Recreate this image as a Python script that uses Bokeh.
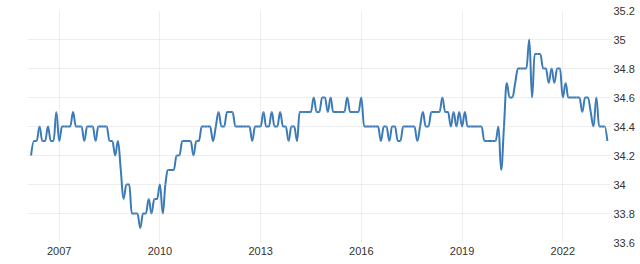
import pandas as pd
from bokeh.plotting import figure
from bokeh.models import FixedTicker, DatetimeTickFormatter, NumeralTickFormatter, Range1d
from bokeh.embed import file_html
from bokeh.resources import INLINE

# ---- data (monthly, Mar 2006 .. May 2023) ----
start_month = "2006-03-01"
hours = [
    34.2, 34.3, 34.3, 34.4, 34.3, 34.3, 34.4, 34.3, 34.3, 34.5,   # 2006
    34.3, 34.4, 34.4, 34.4, 34.4, 34.5, 34.4, 34.4, 34.4, 34.3,
    34.4, 34.4, 34.4, 34.3, 34.4, 34.4, 34.4, 34.4, 34.3, 34.3,
    34.2, 34.3, 34.1, 33.9, 34.0, 34.0, 33.8, 33.8, 33.8, 33.7,
    33.8, 33.8, 33.9, 33.8, 33.9, 33.9, 34.0, 33.8, 34.0, 34.1,
    34.1, 34.1, 34.2, 34.2, 34.3, 34.3, 34.3, 34.3, 34.2, 34.3,
    34.3, 34.4, 34.4, 34.4, 34.4, 34.3, 34.4, 34.5, 34.4, 34.4,
    34.5, 34.5, 34.5, 34.4, 34.4, 34.4, 34.4, 34.4, 34.4, 34.3,
    34.4, 34.4, 34.4, 34.5, 34.4, 34.4, 34.5, 34.4, 34.4, 34.5,
    34.4, 34.4, 34.3, 34.4, 34.4, 34.3, 34.5, 34.5, 34.5, 34.5,
    34.5, 34.6, 34.5, 34.5, 34.6, 34.6, 34.5, 34.6, 34.5, 34.5,
    34.5, 34.5, 34.5, 34.6, 34.5, 34.5, 34.5, 34.5, 34.6, 34.4,
    34.4, 34.4, 34.4, 34.4, 34.4, 34.3, 34.4, 34.4, 34.3, 34.4,
    34.4, 34.3, 34.3, 34.4, 34.4, 34.4, 34.4, 34.4, 34.3, 34.4,
    34.5, 34.4, 34.4, 34.5, 34.5, 34.5, 34.5, 34.6, 34.5, 34.5,
    34.4, 34.5, 34.4, 34.5, 34.4, 34.5, 34.4, 34.4, 34.4, 34.4,
    34.4, 34.4, 34.3, 34.3, 34.3, 34.3, 34.3, 34.4, 34.1, 34.4,
    34.7, 34.6, 34.6, 34.7, 34.8, 34.8, 34.8, 34.8, 35.0, 34.6,
    34.9, 34.9, 34.9, 34.8, 34.8, 34.7, 34.8, 34.7, 34.8, 34.8,
    34.6, 34.7, 34.6, 34.6, 34.6, 34.6, 34.6, 34.5, 34.6, 34.6,
    34.5, 34.4, 34.6, 34.4, 34.4, 34.4, 34.3,
]
tick_years = [2007, 2010, 2013, 2016, 2019, 2022]
y_ticks = [33.6, 33.8, 34.0, 34.2, 34.4, 34.6, 34.8, 35.0, 35.2]

dates = pd.date_range(start_month, periods=len(hours), freq="MS")
xs = [d.value / 1e6 for d in dates]  # ms since epoch
ys = list(hours)

# ---- Highcharts-style spline control points (rendering only) ----
def spline_controls(x, y, smoothing=1.5):
    n = len(x)
    denom = smoothing + 1
    lc = [(x[i], y[i]) for i in range(n)]
    rc = [(x[i], y[i]) for i in range(n)]
    for i in range(1, n - 1):
        lx, ly = x[i - 1], y[i - 1]
        nx, ny = x[i + 1], y[i + 1]
        px, py = x[i], y[i]
        lcx = (smoothing * px + lx) / denom
        lcy = (smoothing * py + ly) / denom
        rcx = (smoothing * px + nx) / denom
        rcy = (smoothing * py + ny) / denom
        if rcx != lcx:
            corr = ((rcy - lcy) * (rcx - px)) / (rcx - lcx) + py - rcy
            lcy += corr
            rcy += corr
        if lcy > ly and lcy > py:
            lcy = max(ly, py); rcy = 2 * py - lcy
        elif lcy < ly and lcy < py:
            lcy = min(ly, py); rcy = 2 * py - lcy
        if rcy > ny and rcy > py:
            rcy = max(ny, py); lcy = 2 * py - rcy
        elif rcy < ny and rcy < py:
            rcy = min(ny, py); lcy = 2 * py - rcy
        lc[i] = (lcx, lcy)
        rc[i] = (rcx, rcy)
    seg = dict(x0=[], y0=[], x1=[], y1=[], cx0=[], cy0=[], cx1=[], cy1=[])
    for i in range(1, n):
        seg["x0"].append(x[i - 1]); seg["y0"].append(y[i - 1])
        seg["x1"].append(x[i]); seg["y1"].append(y[i])
        seg["cx0"].append(rc[i - 1][0]); seg["cy0"].append(rc[i - 1][1])
        seg["cx1"].append(lc[i][0]); seg["cy1"].append(lc[i][1])
    return seg

seg = spline_controls(xs, ys)

# ---- layout geometry ----
W, H = 640, 264
left, right, top, bottom = 27, 30, 10, 22
t_a = pd.Timestamp(f"{tick_years[0]}-01-01").value / 1e6
t_b = pd.Timestamp(f"{tick_years[-1]}-01-01").value / 1e6
px_a, px_b = 58.7, 562.3
ms_per_px = (t_b - t_a) / (px_b - px_a)
x_start = t_a - (px_a - left) * ms_per_px
x_end = t_a + ((W - right) - px_a) * ms_per_px

p = figure(width=W, height=H, output_backend="svg", toolbar_location=None,
           x_axis_type="datetime", y_axis_location="right",
           x_range=Range1d(x_start, x_end), y_range=Range1d(y_ticks[0], y_ticks[-1]),
           min_border_left=left, min_border_right=right,
           min_border_top=top, min_border_bottom=bottom)
p.outline_line_color = None
p.background_fill_color = "white"
p.border_fill_color = "white"

grid_color = "#dcdcdc"
p.xgrid.grid_line_color = grid_color
p.ygrid.grid_line_color = grid_color
p.xgrid.grid_line_dash = "1 1"
p.ygrid.grid_line_dash = "1 1"

p.xaxis.ticker = FixedTicker(ticks=[pd.Timestamp(f"{y}-01-01").value / 1e6 for y in tick_years])
p.xaxis.formatter = DatetimeTickFormatter(years="%Y", months="%Y", days="%Y", hours="%Y",
                                          minutes="%Y", seconds="%Y", milliseconds="%Y",
                                          microseconds="%Y")
p.yaxis.ticker = FixedTicker(ticks=y_ticks)
p.yaxis.formatter = NumeralTickFormatter(format="0.[0]")

for ax in (p.xaxis[0], p.yaxis[0]):
    ax.axis_line_color = None
    ax.major_tick_line_color = None
    ax.minor_tick_line_color = None
    ax.major_tick_out = 0
    ax.major_tick_in = 0
    ax.major_label_text_font = "Liberation Sans"
    ax.major_label_text_font_size = "11px"
    ax.major_label_text_color = "#333333"
p.xaxis.major_label_standoff = 4
p.yaxis.major_label_standoff = 3

p.bezier(x0="x0", y0="y0", x1="x1", y1="y1", cx0="cx0", cy0="cy0", cx1="cx1", cy1="cy1",
         source=seg, line_color="#3b7ab6", line_width=2)

open("out.html", "w").write(file_html(p, INLINE))
